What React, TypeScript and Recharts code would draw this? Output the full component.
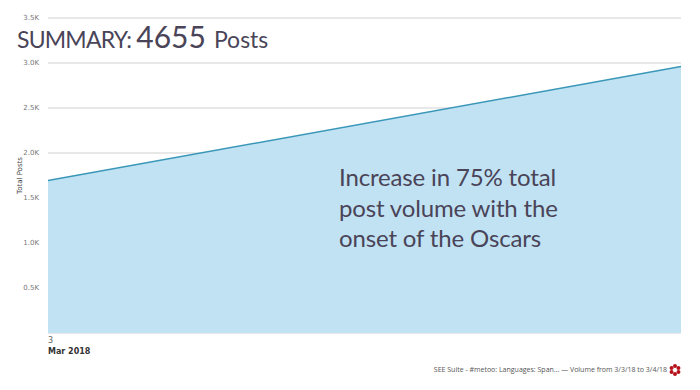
import { Area, AreaChart, CartesianGrid, XAxis, YAxis } from "recharts";

const DAYS = ["3", "4"];
const TOTAL_POSTS = [1695, 2960];
const Y_TICKS = [0, 500, 1000, 1500, 2000, 2500, 3000, 3500];
const MONTH_LABEL = "Mar 2018";
const VISIBLE_DAY_TICKS = ["3"];

const data = DAYS.map((day, i) => ({ day, posts: TOTAL_POSTS[i] }));

const TICK_FONT = "'DejaVu Sans', sans-serif";
const TEXT_FONT = "Lato, sans-serif";
const INK = "#4a4458";

function DayTick({ x, y, payload }: any) {
  return (
    <g fontFamily={TICK_FONT} fontSize={8}>
      <text x={x} y={y + 4} fill="#666">
        {payload.value}
      </text>
      <text x={x} y={y + 15} fill="#333" fontWeight="bold">
        {MONTH_LABEL}
      </text>
    </g>
  );
}

function Logo() {
  const dots = [0, 60, 120, 180, 240, 300];
  return (
    <svg width={12} height={12} viewBox="-6 -6 12 12" style={{ position: "absolute", left: 669, top: 364 }}>
      {dots.map((deg) => (
        <circle
          key={deg}
          cx={4 * Math.sin((deg * Math.PI) / 180)}
          cy={-4 * Math.cos((deg * Math.PI) / 180)}
          r={2}
          fill="#b5121b"
        />
      ))}
    </svg>
  );
}

export default function App() {
  return (
    <div style={{ position: "absolute", left: 0, top: 0, width: 700, height: 390, background: "#fff", overflow: "hidden" }}>
      <AreaChart width={700} height={390} data={data} margin={{ top: 18, right: 19, bottom: 32, left: 0 }}>
        <CartesianGrid horizontal vertical={false} stroke="#e8e8e8" strokeWidth={2} />
        <XAxis
          dataKey="day"
          ticks={VISIBLE_DAY_TICKS}
          axisLine={false}
          tickLine={false}
          interval={0}
          height={25}
          tick={<DayTick />}
          tickMargin={0}
        />
        <YAxis
          width={48}
          domain={[0, 3500]}
          ticks={Y_TICKS}
          interval={0}
          axisLine={false}
          tickLine={false}
          tickMargin={3}
          tick={{ fontSize: 7, fontFamily: TICK_FONT, fill: "#777" }}
          tickFormatter={(v: number) => (v === 0 ? "" : `${(v / 1000).toFixed(1)}K`)}
          label={{
            value: "Total Posts",
            angle: -90,
            position: "insideLeft",
            offset: 20,
            style: { fontSize: 7, fontFamily: TICK_FONT, fill: "#444", textAnchor: "middle" },
          }}
        />
        <Area
          type="linear"
          dataKey="posts"
          stroke="#3a97b8"
          strokeWidth={1.5}
          fill="#c1e2f3"
          fillOpacity={1}
          isAnimationActive={false}
          dot={false}
        />
      </AreaChart>

      <div style={{ position: "absolute", left: 17, top: 14, whiteSpace: "nowrap", fontFamily: TEXT_FONT, color: INK, fontSize: 23, lineHeight: "44px" }}>
        <span style={{ letterSpacing: -0.8 }}>SUMMARY:</span>
        <span style={{ fontSize: 30, marginLeft: 5 }}>4655</span>
        <span style={{ marginLeft: 8 }}>Posts</span>
      </div>

      <div style={{ position: "absolute", left: 339, top: 162, width: 260, fontFamily: TEXT_FONT, color: INK, fontSize: 24, lineHeight: "30.5px", letterSpacing: -0.15 }}>
        Increase in 75% total
        <br />
        post volume with the
        <br />
        onset of the Oscars
      </div>

      <div style={{ position: "absolute", right: 33, top: 364, whiteSpace: "nowrap", fontFamily: "'Open Sans', sans-serif", color: "#555", fontSize: 7, lineHeight: "12px" }}>
        SEE Suite - #metoo: Languages: Span... — Volume from 3/3/18 to 3/4/18
      </div>
      <Logo />
    </div>
  );
}
